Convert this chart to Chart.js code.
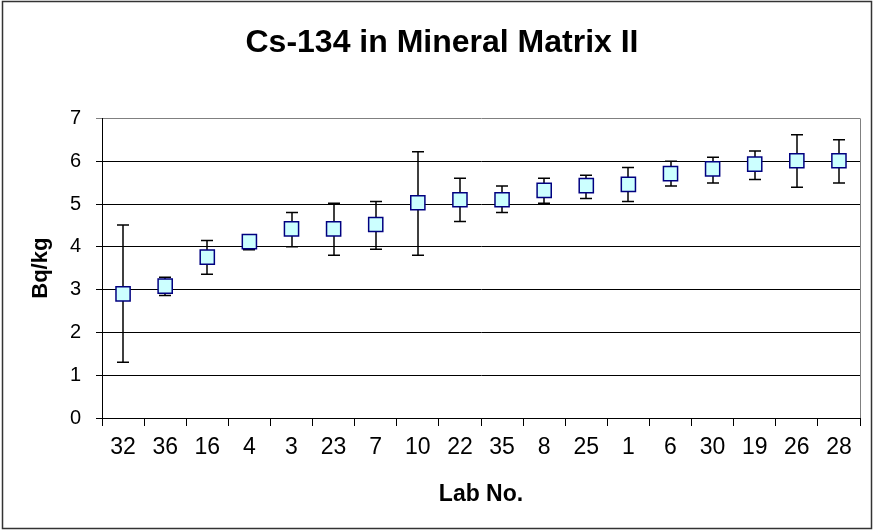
<!DOCTYPE html>
<html>
<head>
<meta charset="utf-8">
<script src="https://cdn.jsdelivr.net/npm/chart.js@4.4.1/dist/chart.umd.min.js"></script>
<style>
  html, body { margin: 0; padding: 0; background: #fff; }
  #wrap { width: 874px; height: 531px; position: relative; }
</style>
</head>
<body>
<div id="wrap"><canvas id="myChart"></canvas></div>
<script>
// Datos
var labs = ["32", "36", "16", "4", "3", "23", "7", "10", "22", "35", "8", "25", "1", "6", "30", "19", "26", "28"];
var values = [2.9, 3.08, 3.76, 4.12, 4.42, 4.42, 4.52, 5.03, 5.1, 5.1, 5.32, 5.43, 5.46, 5.71, 5.82, 5.93, 6.01, 6.01];
var errLow = [1.3, 2.86, 3.36, 3.93, 4.0, 3.8, 3.94, 3.8, 4.59, 4.8, 5.02, 5.13, 5.06, 5.42, 5.49, 5.57, 5.39, 5.49];
var errHigh = [4.51, 3.29, 4.15, 4.28, 4.8, 5.02, 5.06, 6.22, 5.6, 5.42, 5.6, 5.67, 5.85, 6.0, 6.09, 6.24, 6.62, 6.5];
var yTicks = [0, 1, 2, 3, 4, 5, 6, 7];

var fontFam = "'Liberation Sans', Arial, sans-serif";

// barras de error dibujadas con las escalas del grafico
const errorBars = {
    id: "errorBars",
    beforeDatasetsDraw(chart) {
        const ctx = chart.ctx;
        const x = chart.scales.x;
        const y = chart.scales.y;
        ctx.save();
        ctx.strokeStyle = "#000";
        ctx.lineWidth = 1.5;
        for (let i = 0; i < values.length; i++) {
            const px = Math.round(x.getPixelForValue(i));
            const top = y.getPixelForValue(errHigh[i]);
            const bot = y.getPixelForValue(errLow[i]);
            ctx.beginPath();
            ctx.moveTo(px, top);
            ctx.lineTo(px, bot);
            ctx.moveTo(px - 6, top);
            ctx.lineTo(px + 6, top);
            ctx.moveTo(px - 6, bot);
            ctx.lineTo(px + 6, bot);
            ctx.stroke();
        }
        ctx.restore();
    }
};

// borde gris del area de trazado y marco exterior
const frame = {
    id: "frame",
    beforeDraw(chart) {
        const ctx = chart.ctx;
        ctx.save();
        ctx.fillStyle = "#fff";
        ctx.fillRect(0, 0, chart.width, chart.height);
        ctx.restore();
    },
    afterDraw(chart) {
        const ctx = chart.ctx;
        const a = chart.chartArea;
        ctx.save();
        ctx.strokeStyle = "#808080";
        ctx.lineWidth = 1;
        ctx.beginPath();
        ctx.moveTo(Math.round(a.right) + 0.5, a.top);
        ctx.lineTo(Math.round(a.right) + 0.5, a.bottom);
        ctx.stroke();
        ctx.strokeStyle = "#333";
        ctx.lineWidth = 1.5;
        ctx.strokeRect(2.5, 1.5, chart.width - 5, chart.height - 4);
        ctx.restore();
    }
};

var ctx = document.getElementById("myChart").getContext("2d");
var chart = new Chart(ctx, {
    type: "line",
    data: {
        labels: labs,
        datasets: [
            {
                label: "Cs-134",
                data: values,
                showLine: false,
                pointStyle: "rect",
                pointRadius: 10,
                pointHoverRadius: 10,
                pointBorderWidth: 1.5,
                pointBorderColor: "#000080",
                pointBackgroundColor: "#CCFFFF",
            },
        ],
    },
    plugins: [frame, errorBars],
    options: {
        responsive: true,
        maintainAspectRatio: false,
        animation: false,
        layout: {
            padding: { left: 24, right: 14, top: 0, bottom: 19 },
        },
        plugins: {
            legend: { display: false },
            tooltip: { enabled: false },
            title: {
                display: true,
                text: "Cs-134 in Mineral Matrix II",
                color: "#000",
                font: { family: fontFam, size: 32, weight: "bold" },
                padding: { top: 24, bottom: 56 },
            },
        },
        scales: {
            x: {
                type: "category",
                offset: true,
                grid: {
                    offset: true,
                    drawOnChartArea: false,
                    drawTicks: true,
                    tickLength: 8,
                    color: "#000",
                },
                border: { color: "#000", width: 1 },
                ticks: {
                    color: "#000",
                    font: { family: fontFam, size: 23 },
                    padding: 8,
                    maxRotation: 0,
                    autoSkip: false,
                },
                title: {
                    display: true,
                    text: "Lab No.",
                    color: "#000",
                    font: { family: fontFam, size: 23, weight: "bold" },
                    padding: { top: 4, bottom: 4 },
                },
                afterFit(scale) {
                    scale.height = 94;
                },
            },
            y: {
                min: 0,
                max: 7,
                afterBuildTicks(scale) {
                    scale.ticks = yTicks.map(v => ({ value: v }));
                },
                grid: {
                    color: c => (c.tick && c.tick.value === 7 ? "#808080" : "#000"),
                    tickLength: 6,
                    lineWidth: 1,
                },
                border: { color: "#000", width: 1 },
                ticks: {
                    color: "#000",
                    font: { family: fontFam, size: 20 },
                    padding: 15,
                },
                title: {
                    display: true,
                    text: "Bq/kg",
                    color: "#000",
                    font: { family: fontFam, size: 22, weight: "bold" },
                    padding: { top: 4, bottom: 4 },
                },
                afterFit(scale) {
                    scale.width = 78;
                },
            },
        },
    },
});
</script>
</body>
</html>
